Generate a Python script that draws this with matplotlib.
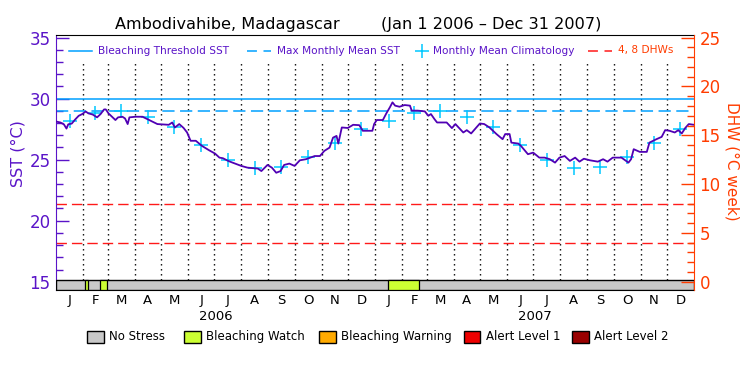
import numpy as np
import matplotlib
matplotlib.use("Agg")
import matplotlib.pyplot as plt
from matplotlib.patches import Rectangle
from matplotlib.lines import Line2D

# ---------------- data ----------------
title_site = "Ambodivahibe, Madagascar"
title_period = "(Jan 1 2006 \u2013 Dec 31 2007)"
month_letters = ['J', 'F', 'M', 'A', 'M', 'J', 'J', 'A', 'S', 'O', 'N', 'D']
years = ['2006', '2007']

# monthly mean climatology (repeats each year)
clim_values = [28.2, 28.83, 29.0, 28.5, 27.7, 26.2, 25.0, 24.35, 24.4, 25.2, 26.35, 27.55]
mmm = 29.0           # max monthly mean
threshold = 30.0     # bleaching threshold
dhw_levels = [4, 8]

# SST time series: day offset from 2006-01-01 and value
sst_day = [0, 5, 9, 12, 14, 18, 22, 26, 30, 34, 37, 42, 47, 51, 55, 57, 60, 64, 68, 71,
           76, 79, 82, 84, 91, 99, 103, 110, 116, 129, 133, 136, 141, 146, 150, 154, 160, 167, 175, 182,
           187, 191, 197, 202, 212, 219, 231, 235, 242, 247, 252, 257, 261, 267, 273, 279, 286, 296, 302, 307,
           313, 317, 321, 323, 327, 334, 340, 347, 351, 362, 364, 367, 374, 378, 382, 385, 388, 393, 399, 405,
           407, 414, 422, 426, 429, 433, 436, 447, 453, 457, 466, 470, 475, 485, 490, 496, 504, 511, 514, 519,
           521, 529, 532, 540, 546, 553, 559, 565, 571, 576, 582, 588, 594, 599, 604, 611, 620, 626, 631, 637,
           647, 655, 658, 661, 668, 676, 679, 687, 693, 697, 702, 708, 712, 716, 720, 724, 730]
sst_val = [28.13, 28.05, 27.9, 27.55, 27.9, 27.96, 28.3, 28.6, 28.74, 28.95, 28.8, 28.7, 28.47, 28.74, 29.12, 29.12, 28.8, 28.52, 28.25, 28.47,
           28.52, 28.38, 27.92, 28.47, 28.52, 28.52, 28.38, 28.13, 27.92, 27.86, 28.05, 27.64, 27.92, 27.6, 27.23, 26.55, 26.55, 26.13, 25.78, 25.5,
           25.17, 25.12, 24.9, 24.76, 24.49, 24.35, 24.27, 24.07, 24.57, 24.35, 23.93, 24.07, 24.57, 24.68, 24.49, 24.95, 25.04, 25.3, 25.3, 25.72,
           25.99, 26.81, 26.95, 26.32, 27.64, 27.6, 27.86, 27.83, 27.37, 27.37, 27.92, 28.25, 28.25, 28.8, 29.29, 29.7, 29.43, 29.34, 29.48, 29.43,
           29.02, 29.02, 28.96, 28.6, 28.74, 28.33, 28.05, 28.05, 27.59, 27.92, 27.23, 27.42, 27.15, 27.97, 27.92, 27.64, 27.1, 26.68, 27.1, 27.1,
           26.4, 26.32, 26.13, 25.45, 25.58, 25.17, 25.17, 25.04, 24.76, 25.17, 25.3, 24.9, 25.17, 24.84, 25.08, 24.95, 24.84, 25.04, 24.84, 25.17,
           25.17, 24.76, 25.04, 25.86, 25.64, 25.64, 26.4, 26.68, 26.87, 27.42, 27.37, 27.23, 27.42, 27.15, 27.6, 27.92, 27.86]

# Bleaching watch periods (day offsets)
watch_start = [33, 50, 380]
watch_end = [36.5, 58, 415]

stress_labels = ['No Stress', 'Bleaching Watch', 'Bleaching Warning', 'Alert Level 1', 'Alert Level 2']
stress_colors = ['#c8c8c8', '#ccff33', '#ffaa00', '#ee0000', '#990000']

# ---------------- styling ----------------
PURPLE = '#5a14c8'
LINE_PURPLE = '#5000b4'
ORANGE = '#ff3c00'
BLUE = '#00a0ff'
CYAN = '#00c8ff'
RED = '#ff1a1a'

W, H = 750, 375
fig = plt.figure(figsize=(7.5, 3.75), dpi=100)

def fx(px):
    return px / W

def fy(py):
    return 1 - py / H

ax_left, ax_right, ax_top, ax_bot = 56, 694, 35, 290
ax = fig.add_axes([fx(ax_left), fy(ax_bot), fx(ax_right - ax_left), (ax_bot - ax_top) / H])

y0, y1 = 14.32, 35.22
ax.set_xlim(0, 730)
ax.set_ylim(y0, y1)

# months
months = np.arange('2006-01', '2008-02', dtype='datetime64[M]')
mstarts = (months.astype('datetime64[D]') - np.datetime64('2006-01-01')).astype(int)
mmids = (mstarts[:-1] + mstarts[1:]) / 2.0

bar_top = 15.14
# dotted month separators
ax.vlines(mstarts[1:-1], bar_top, 32.9, colors='black', linestyles=(0, (1, 2.6)), linewidth=1.0, zorder=1)

# threshold & MMM
ax.axhline(threshold, color=BLUE, lw=1.1, zorder=2)
ax.axhline(mmm, color=BLUE, lw=1.1, ls=(0, (8, 3.6)), zorder=2)

# DHW lines (on SST scale: DHW = (SST-15)*1.25)
for lev in dhw_levels:
    ax.axhline(15 + lev / 1.25, color=RED, lw=1.0, ls=(0, (7.5, 3.6)), zorder=2)

# climatology crosses
clim_x = np.concatenate([mmids[:12], mmids[12:24]])
clim_y = clim_values * 2
ax.plot(clim_x, clim_y, ls='none', marker='+', ms=9.5, mew=1.1, color=CYAN, zorder=4)

# SST line
ax.plot(sst_day, sst_val, color=LINE_PURPLE, lw=1.3, zorder=5)

# stress bar
ax.add_patch(Rectangle((0, y0), 730, bar_top - y0, facecolor=stress_colors[0], edgecolor='black', lw=1.0, zorder=3))
for s, e in zip(watch_start, watch_end):
    ax.add_patch(Rectangle((s, y0), e - s, bar_top - y0, facecolor=stress_colors[1], edgecolor='black', lw=0.9, zorder=3))

# axes styling
ax.set_xticks(mmids[:24])
ax.set_xticklabels(month_letters * 2, fontsize=9.5)
ax.tick_params(axis='x', length=0, pad=3)
ax.set_yticks([15, 20, 25, 30, 35])
ax.set_yticks(np.arange(15, 36, 1), minor=True)
ax.tick_params(axis='y', which='major', direction='in', length=9.5, width=1.0, color=PURPLE,
               labelcolor=PURPLE, labelsize=12, pad=4)
ax.tick_params(axis='y', which='minor', direction='in', length=4.8, width=1.0, color=PURPLE)
ax.spines['left'].set_color(PURPLE)
ax.spines['right'].set_visible(False)
for s in ['top', 'bottom']:
    ax.spines[s].set_color('black')

ax2 = ax.twinx()
ax2.set_ylim((y0 - 15) * 1.25, (y1 - 15) * 1.25)
ax2.set_yticks([0, 5, 10, 15, 20, 25])
ax2.set_yticks(np.arange(0, 26, 1), minor=True)
ax2.tick_params(axis='y', which='major', direction='in', length=9.5, width=1.0, color=ORANGE,
                labelcolor=ORANGE, labelsize=12, pad=4)
ax2.tick_params(axis='y', which='minor', direction='in', length=4.8, width=1.0, color=ORANGE)
for s in ['left', 'top', 'bottom']:
    ax2.spines[s].set_visible(False)
ax2.spines['right'].set_color(ORANGE)

# year labels
for i, yr in enumerate(years):
    xm = (mstarts[12 * i] + mstarts[12 * i + 12]) / 2.0
    ax.text(xm, -(317 - ax_bot) / (ax_bot - ax_top), yr, transform=ax.get_xaxis_transform(),
            ha='center', va='center', fontsize=9.5)

# axis labels
fig.text(fx(18), fy(154), 'SST (\u00b0C)', rotation=90, ha='center', va='center', fontsize=11.5, color=PURPLE)
fig.text(fx(732), fy(161), 'DHW (\u00b0C week)', rotation=270, ha='center', va='center', fontsize=11, color=ORANGE)

# title
fig.text(fx(115), fy(28.5), title_site, ha='left', va='baseline', fontsize=11.6)
fig.text(fx(381), fy(28.5), title_period, ha='left', va='baseline', fontsize=11.6)

# top legend
ly = fy(50.5)
fs_leg = 7.6
fig.add_artist(Line2D([fx(69), fx(92)], [ly, ly], color=BLUE, lw=1.1))
fig.text(fx(98), ly, 'Bleaching Threshold SST', color=PURPLE, fontsize=fs_leg, va='center', ha='left')
fig.add_artist(Line2D([fx(247), fx(271)], [ly, ly], color=BLUE, lw=1.1, ls=(0, (6.5, 4.3))))
fig.text(fx(277), ly, 'Max Monthly Mean SST', color=PURPLE, fontsize=fs_leg, va='center', ha='left')
fig.add_artist(Line2D([fx(422)], [ly], color=CYAN, marker='+', ms=9.5, mew=1.1, ls='none'))
fig.text(fx(433), ly, 'Monthly Mean Climatology', color=PURPLE, fontsize=fs_leg, va='center', ha='left')
fig.add_artist(Line2D([fx(588), fx(612)], [ly, ly], color=RED, lw=1.1, ls=(0, (6.5, 4.3))))
fig.text(fx(618), ly, '4, 8 DHWs', color=ORANGE, fontsize=fs_leg, va='center', ha='left')

# bottom legend
box_x = [87, 184, 319, 463.5, 572]
box_w, box_h = 16.5, 12
box_top = 330.7
for bx, lab, col in zip(box_x, stress_labels, stress_colors):
    fig.add_artist(Rectangle((fx(bx), fy(box_top + box_h)), box_w / W, box_h / H,
                             facecolor=col, edgecolor='black', lw=1.0, transform=fig.transFigure))
    fig.text(fx(bx + box_w + 5.5), fy(box_top + box_h / 2), lab, fontsize=8.5, va='center', ha='left')

fig.savefig('out.png', dpi=100)
